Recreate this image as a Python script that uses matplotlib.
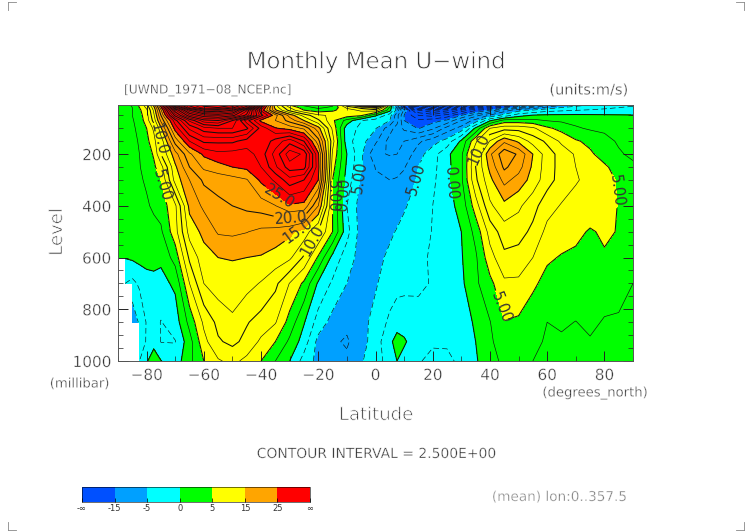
#!/usr/bin/env python

import matplotlib
matplotlib.use('Agg')
import matplotlib.pyplot as plt
import matplotlib.patheffects as pe
from matplotlib.lines import Line2D
from matplotlib.ticker import MultipleLocator
import numpy as np

nan = np.nan

lat = [-90, -87.5, -85, -82.5, -80, -77.5, -75, -70, -65, -60, -55, -50, -45, -40, -35, -30, -25, -20, -15, -10,
       -5, 0, 5, 7.5, 10, 15, 20, 25, 30, 35, 40, 45, 50, 55, 60, 65, 70, 75, 80, 85, 90]
level = [1000, 925, 850, 700, 600, 500, 400, 300, 250, 200, 150, 100, 70, 50, 30, 20, 10]

# zonal wind, m/s, one list per pressure level
u_1000 = [nan, nan, nan, -2.5, -0.2, 1, 0.1, -1.3, 1.8, 5, 7.2, 8.2, 6.8, 5, 2.5, 0, -3.5, -5.8, -7, -7,
          -5.2, -3.8, -1.2, 0, -0.8, -2.3, -3.1, -3, -2, -0.3, 1.7, 3, 2.9, 2.5, 2.1, 1.9, 1.8, 1.8, 1.7, 1.6, 1.5]
u_925 = [nan, nan, nan, -3.2, -2.4, -0.6, -2.6, -2.6, 1.5, 6.7, 9.7, 10.6, 9.3, 7, 5, 2, -1.2, -5.8, -7.1, -7.8,
         -6, -3.8, -0.4, 0.7, 0.3, -1.4, -2.2, -2.2, -1.3, 0, 2.1, 3.8, 3.9, 2.9, 2.3, 2.2, 2.2, 2.3, 2.3, 2.3, 2.2]
u_850 = [nan, nan, -7, -4.6, -2.3, -1.5, -2.6, -1.3, 3.3, 8, 10.7, 11.9, 10.2, 9, 7.7, 4, 0.2, -3.6, -5.9, -6.9,
         -5.6, -4.4, -1.9, -0.8, -1, -1.5, -1.6, -1.5, -1, 0.3, 2.4, 4.9, 4.6, 3.4, 2.5, 2.8, 2.45, 3, 2.3, 2.3, 2.3]
u_700 = [nan, -2.5, -3.2, -2.1, -1.2, -0.9, -0.8, 0.5, 7.5, 12.5, 13.8, 14.3, 13.4, 12.3, 10.6, 7.4, 4.5, -0.4, -2.9, -5,
         -5.8, -5.2, -4, -3.5, -3.2, -3, -2.3, -1.5, -0.5, 2, 4.3, 7, 7, 5.5, 4.1, 4, 4, 4, 3.7, 3.1, 2.5]
u_600 = [0.1, 0.1, 0.4, 0.8, 1, 1, 0.5, 3.5, 10.5, 14, 15, 15.1, 15, 14.8, 14, 13, 9.6, 4.6, -0.8, -3.8,
         -6, -5.9, -4.4, -3.9, -3.5, -3, -2.2, -1.5, -0.2, 2.1, 6.5, 9.4, 9, 7.5, 5.4, 4.8, 4.6, 4.2, 4.8, 3.8, 3]
u_500 = [1, 1.1, 1.2, 1.3, 1.5, 1.7, 2.1, 6.5, 13.5, 15.7, 17.8, 18, 17.6, 16.9, 16.6, 15.6, 14, 10, 5, -1.6,
         -6.2, -6.8, -5.5, -4.8, -4.2, -3.4, -2.4, -1.5, 0, 3.3, 8.5, 11.3, 11, 9.4, 6.8, 6.2, 5.5, 4.8, 5.3, 4.9, 3.5]
u_400 = [1.2, 1.3, 1.4, 1.7, 2.2, 2.9, 3.5, 7, 15.7, 18, 19.4, 20, 20.6, 21.2, 22.4, 24.6, 24.2, 17.5, 5, -2.5,
         -6.2, -7, -6.8, -6.2, -5.3, -3.8, -2.5, -0.9, 0.8, 6.3, 12, 14.3, 13, 10.9, 8.5, 7.3, 6.7, 6.2, 5.8, 4.9, 4]
u_300 = [1.4, 1.5, 1.7, 2.2, 2.8, 3.9, 5, 13.5, 17.5, 20.5, 21, 21.5, 22.3, 25.5, 28, 31.5, 30, 25, 5, -1,
         -5.5, -7.2, -7.5, -7.3, -6.8, -4.6, -3, -0.7, 2, 9.5, 14.3, 18.3, 16.5, 14, 11, 9, 7.7, 6.9, 6, 4.7, 3.5]
u_250 = [1.4, 1.5, 1.8, 2.4, 3.2, 4.5, 6.5, 14.5, 20, 23, 24, 25, 25.6, 27.5, 32, 36.3, 36, 26, 6, -0.5,
         -4.7, -7.6, -8.5, -8.3, -7.7, -5, -3.2, -0.8, 2, 10, 15.7, 20.5, 18.5, 14.5, 11.2, 9, 7.5, 6.2, 5.4, 4, 3]
u_200 = [1.2, 1.4, 1.8, 2.5, 3.6, 5.3, 10, 16.5, 22, 25.5, 26.8, 26.5, 26.3, 28.7, 33.5, 39, 37, 25.5, 7, 0,
         -4.5, -9.5, -10.2, -10, -9.3, -6, -3.5, -0.6, 2, 9.5, 17, 21.8, 19.6, 15, 11.2, 9, 7.2, 5.4, 4, 2.8, 2]
u_150 = [0.8, 1, 1.6, 2.8, 4.3, 6.5, 11, 21, 27.5, 30.5, 30.5, 30.5, 29, 28, 31, 34, 30, 21, 8.5, -1.5,
         -4, -7, -11, -11, -10, -8, -6, -4, 0.5, 7, 12.7, 17, 14.5, 11.5, 9.5, 7, 5.3, 4.4, 3.3, 2.2, 1.5]
u_100 = [0.5, 0.8, 1.8, 3.5, 5, 8, 14.5, 26, 33, 36.5, 37.5, 37.5, 35.5, 29, 25.2, 24, 22, 16, 7, -1.5,
         -3, -4.8, -9, -11, -13, -15.2, -13, -9, -6.5, 0.5, 7.5, 9, 9, 8, 5.5, 4.2, 2.8, 2.2, 2, 1.2, 0.5]
u_70 = [0.5, 1, 2.2, 3.8, 6, 11, 18, 29, 38, 44, 45, 40, 31, 24.3, 22.5, 19, 15, 10.5, 5.5, 1.6,
        -2.4, -3.6, -5, -9, -15, -17, -16, -14.5, -10, -6.5, -0.4, 3.5, 3.5, 3.2, 2.4, 2.1, 1.8, 1.4, 1, 0.7, 0.3]
u_50 = [0.5, 1.2, 2.5, 4, 6.5, 12, 20, 36, 47, 52, 53, 51, 44, 31, 23.5, 16.5, 11.5, 8, 7, 6.3,
        5.5, 0.5, -4, -9, -15, -20, -21, -19, -15, -11, -7, -4, -1, 0.2, 0.5, 0.5, 0.5, 0.4, 0.3, 0.2, 0.1]
u_30 = [0.3, 1, 2.5, 4.5, 7, 13, 22, 42, 55, 62, 63, 60, 48, 27, 15.5, 9, 5, 3.5, 4.5, 6.5,
        8, 9, 1, -6, -13, -25, -28, -26, -22, -18, -15, -9, -6, -4.8, -3.5, -3, -2.6, -2.3, -2, -1.8, -1.5]
u_20 = [0.2, 1, 2.5, 5, 8, 14, 24, 48, 63, 69, 70, 66, 58, 30, 14, 7.5, 3.5, 2, 3, 8,
        11, 14, 2, -8, -20, -33, -37, -34, -29, -24, -21, -16, -12, -9, -6.5, -5, -4, -3.5, -3, -2.5, -2]
u_10 = [0, 1, 3, 5.5, 9, 16, 27, 55, 66, 71, 72, 70, 62, 36, 13, 5, 2, 0.5, 2, 12,
        22, 30, 5, -12, -28, -42, -47, -44, -38, -33, -28, -24, -20, -16, -11, -8, -6, -5, -4.3, -3.5, -3]

fill_levels = [-100, -15, -5, 0, 5, 15, 25, 120]
fill_colors = ['#0050ff', '#00a0ff', '#00ffff', '#00ff00', '#ffff00', '#ffa500', '#ff0000']
cbar_labels = ['-\u221e', '-15', '-5', '0', '5', '15', '25', '\u221e']
level_ticks = [200, 400, 600, 800, 1000]
lat_ticks = [-80, -60, -40, -20, 0, 20, 40, 60, 80]
labelled = [-5, 0, 5, 10, 15, 20, 25]

plt.rcParams['font.family'] = 'DejaVu Sans'
text_color = '#333333'
dash = (0, (9, 5))

u = np.array([u_1000, u_925, u_850, u_700, u_600, u_500, u_400, u_300, u_250, u_200, u_150,
              u_100, u_70, u_50, u_30, u_20, u_10])
u = np.ma.masked_invalid(u)

W, H = 752.0, 532.0
fig = plt.figure(figsize=(W/100, H/100), dpi=100)
ax = fig.add_axes([118/W, 1-361/H, 515/W, 256/H])

cf = ax.contourf(lat, level, u, levels=fill_levels, colors=fill_colors, corner_mask=False)
ax.set_xlim(-90, 90)
ax.set_ylim(1000, 10)

line_levels = [v for v in np.arange(-47.5, 77.5, 2.5) if v not in labelled]
widths = [0.75 if v % 5 == 0 and v > 0 else 0.45 for v in line_levels]
styles = [dash if v < 0 else 'solid' for v in line_levels]
ax.contour(lat, level, u, levels=line_levels, colors='#111111', linewidths=widths, linestyles=styles,
           corner_mask=False)

# clabel with a levels subset breaks on manual positions, so each labelled level gets its own set
label_sets = {}
for v in labelled:
    label_sets[v] = ax.contour(lat, level, u, levels=[v], colors='#111111',
                               linewidths=0.45 if v < 0 else 0.75,
                               linestyles=[dash] if v < 0 else 'solid', corner_mask=False)


thin = [pe.Stroke(linewidth=0.3, foreground='white')]
thin_big = [pe.Stroke(linewidth=0.6, foreground='white')]


def add_label(value, lat_pos, lev_pos, text):
    labels = ax.clabel(label_sets[value], manual=[(lat_pos, lev_pos)], fmt={value: text},
                       fontsize=10.5, colors='#333333', inline=True, inline_spacing=1)
    for t in labels:
        t.set_fontweight('normal')


add_label(10, -74, 138, '10.0')
add_label(5, -75.5, 323, '5.00')
add_label(25, -32, 342, '25.0')
add_label(20, -30, 427, '20.0')
add_label(15, -27, 500, '15.0')
add_label(10, -22, 535, '10.0')
add_label(5, -13.6, 365, '5.00')
add_label(0, -11.5, 354, '0.00')
add_label(-5, -4.5, 292, '5.00')
add_label(-5, 14, 296, '5.00')
add_label(0, 28, 308, '0.00')
add_label(10, 37, 185, '10.0')
add_label(5, 84, 342, '5.00')
add_label(5, 46, 785, '5.00')

ax.set_xticks(lat_ticks)
ax.set_xticklabels(['\u2212'+str(-v) if v < 0 else str(v) for v in lat_ticks], color=text_color, fontsize=11)
ax.set_yticks(level_ticks)
ax.set_yticklabels([str(v) for v in level_ticks], color=text_color, fontsize=11)
for t in ax.get_xticklabels() + ax.get_yticklabels():
    t.set_path_effects(thin)
ax.xaxis.set_minor_locator(MultipleLocator(10))
ax.yaxis.set_minor_locator(MultipleLocator(50))
ax.tick_params(which='major', direction='in', length=7, width=0.7, top=True, right=True, pad=5, color='#222222')
ax.tick_params(which='minor', direction='in', length=3.5, width=0.5, top=True, right=True, color='#222222')
for s in ax.spines.values():
    s.set_linewidth(0.7)
    s.set_color('#555555')


def px_text(x, y, s, effect=thin, **kw):
    t = fig.text(x/W, 1-y/H, s, color=kw.pop('color', text_color), va='center', **kw)
    t.set_path_effects(effect)


px_text(376, 62, 'Monthly Mean U\u2212wind', thin_big, fontsize=16.5, ha='center')
px_text(124, 90, '[UWND_1971\u221208_NCEP.nc]', fontsize=8.8, ha='left')
px_text(629, 90, '(units:m/s)', fontsize=10.5, ha='right')
px_text(57, 232, 'Level', thin_big, fontsize=13, ha='center', rotation=90)
px_text(376, 415, 'Latitude', thin_big, fontsize=13, ha='center')
px_text(110, 384, '(millibar)', fontsize=9.5, ha='right')
px_text(649, 393, '(degrees_north)', fontsize=9.5, ha='right')
px_text(376, 454, 'CONTOUR INTERVAL = 2.500E+00', fontsize=10, ha='center')
px_text(628, 497, '(mean) lon:0..357.5', fontsize=9.8, ha='right', color='#777777')

cax = fig.add_axes([82/W, 1-501.5/H, 228/W, 14.5/H])
cbar = fig.colorbar(cf, cax=cax, orientation='horizontal', spacing='uniform', ticks=fill_levels)
cbar.set_ticklabels(cbar_labels, fontsize=6, color=text_color)
cbar.ax.tick_params(direction='in', length=3, width=0.5, pad=2)
cbar.outline.set_linewidth(0.4)
cbar.ax.minorticks_off()

# crop marks in the corners
for cx, cy, dx, dy in [(8, 2, 8, 8), (744, 2, -8, 8), (8, 530, 8, -8), (744, 530, -8, -8)]:
    fig.add_artist(Line2D([cx/W, (cx+dx)/W], [1-cy/H, 1-cy/H], color='#888888', lw=0.6))
    fig.add_artist(Line2D([cx/W, cx/W], [1-cy/H, 1-(cy+dy)/H], color='#888888', lw=0.6))

plt.savefig('out.png', dpi=100)
